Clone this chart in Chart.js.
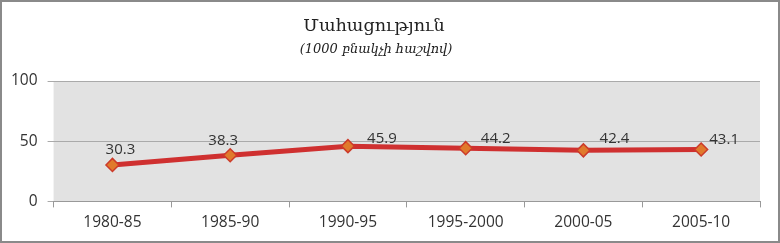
<!DOCTYPE html>
<html>
<head>
<meta charset="utf-8">
<script src="https://cdn.jsdelivr.net/npm/chart.js@4/dist/chart.umd.min.js"></script>
<style>
  body { margin: 0; background: #fff; }
  #wrap { width: 780px; height: 243px; position: relative; }
</style>
</head>
<body>
<div id="wrap"><canvas id="myChart"></canvas></div>
<script>
let periods = ['1980-85', '1985-90', '1990-95', '1995-2000', '2000-05', '2005-10'];
let mortality = [30.3, 38.3, 45.9, 44.2, 42.4, 43.1];
let yTicks = [0, 50, 100];
let titleText = 'Մահացություն';
let subtitleText = '(1000 բնակչի հաշվով)';

// label placement relative to each point (centre x, baseline y)
let labelDx = [8, -7, 34, 30, 31, 23];
let labelDy = [-11, -10, -3, -5, -7, -6];

let frame = {
  id: 'frame',
  beforeDraw(chart) {
    let c = chart.ctx, a = chart.chartArea;
    c.save();
    c.fillStyle = '#e2e2e2';
    c.fillRect(a.left, a.top, a.right - a.left, a.bottom - a.top);
    c.restore();
  },
  afterDraw(chart) {
    let c = chart.ctx;
    c.save();
    c.strokeStyle = '#8a8a8a';
    c.lineWidth = 2;
    c.strokeRect(1, 1, chart.width - 2, chart.height - 2);
    c.fillStyle = '#222';
    c.textAlign = 'center';
    c.font = '17.5px "DejaVu Serif"';
    c.fillText(titleText, 374, 31);
    c.font = 'italic 13px "DejaVu Serif"';
    c.fillText(subtitleText, 376, 53);
    // point labels
    let meta = chart.getDatasetMeta(0);
    c.font = '15px "Open Sans"';
    c.fillStyle = '#333';
    c.textAlign = 'center';
    c.textBaseline = 'alphabetic';
    meta.data.forEach((pt, i) => {
      c.fillText(mortality[i].toFixed(1), pt.x + labelDx[i], pt.y + labelDy[i]);
    });
    c.restore();
  }
};

let ctx = document.getElementById('myChart');
new Chart(ctx, {
  type: 'line',
  data: {
    labels: periods,
    datasets: [{
      data: mortality,
      borderColor: '#cf3030',
      borderWidth: 5,
      pointStyle: 'rectRot',
      pointRadius: 6.5,
      pointBackgroundColor: '#e07a2c',
      pointBorderColor: '#cc3a2a',
      pointBorderWidth: 1.5,
      tension: 0
    }]
  },
  options: {
    responsive: true,
    maintainAspectRatio: false,
    animation: false,
    layout: { padding: { top: 81, left: 1, right: 20, bottom: 5 } },
    plugins: { legend: { display: false }, tooltip: { enabled: false } },
    scales: {
      x: {
        offset: true,
        grid: { offset: true, display: true, drawOnChartArea: false, color: '#999', tickLength: 6 },
        border: { color: '#999' },
        ticks: { color: '#333', font: { family: 'Open Sans', size: 15.5 }, padding: 6 }
      },
      y: {
        min: 0, max: 100,
        afterBuildTicks(axis) { axis.ticks = yTicks.map(v => ({ value: v })); },
        grid: { color: '#aaa', tickLength: 6 },
        border: { display: false },
        ticks: { color: '#333', font: { family: 'Open Sans', size: 15.5 }, padding: 10 }
      }
    }
  },
  plugins: [frame]
});
</script>
</body>
</html>
